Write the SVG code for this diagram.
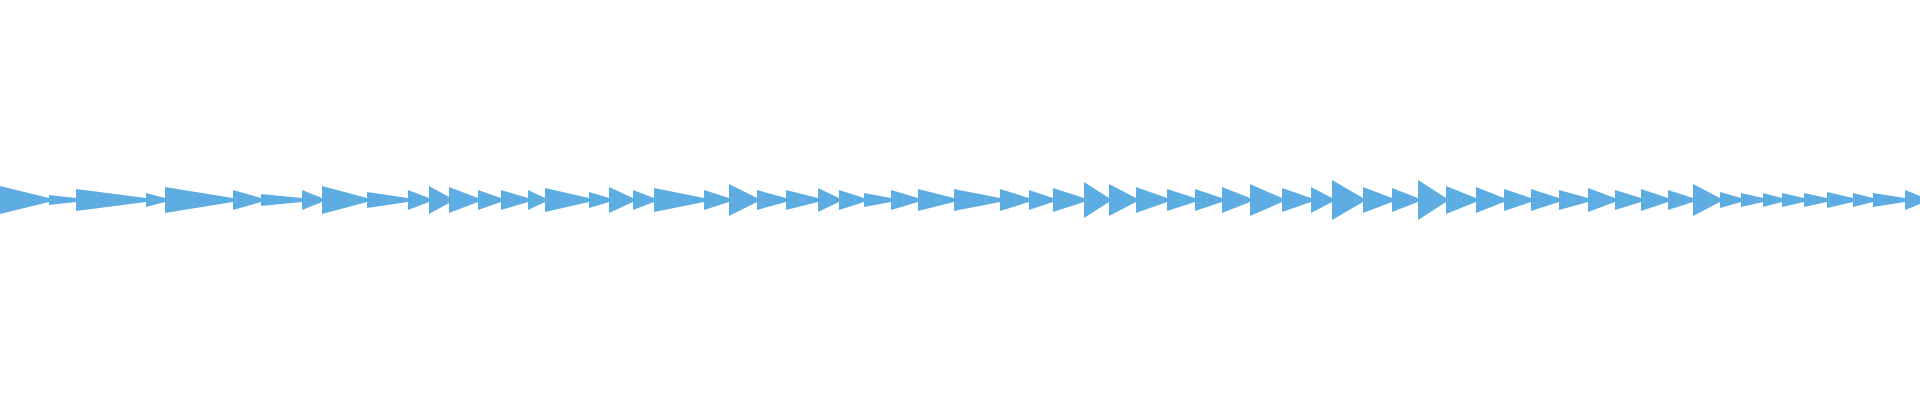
<svg xmlns="http://www.w3.org/2000/svg" width="1920" height="400" viewBox="0 0 1920 400">
<style>.w{fill:#5dade2}</style>
<rect width="1920" height="400" fill="#fff"/>
<g class="w">
<rect x="0" y="199" width="1920" height="2"/>
<polygon points="0,186 49,198 49,202 0,214"/>
<polygon points="49,195 76,198 76,202 49,205"/>
<polygon points="76,189 146,198 146,202 76,211"/>
<polygon points="146,193 165,198 165,202 146,207"/>
<polygon points="165,187 233,198 233,202 165,213"/>
<polygon points="233,190 261,198 261,202 233,210"/>
<polygon points="261,194 302,198 302,202 261,206"/>
<polygon points="302,190 322,198 322,202 302,210"/>
<polygon points="322,186 367,198 367,202 322,214"/>
<polygon points="367,192 408,198 408,202 367,208"/>
<polygon points="408,190 429,198 429,202 408,210"/>
<polygon points="429,186 449,197 449,203 429,214"/>
<polygon points="449,187 478,198 478,202 449,213"/>
<polygon points="478,190 501,198 501,202 478,210"/>
<polygon points="501,190 528,198 528,202 501,210"/>
<polygon points="528,190 545,198 545,202 528,210"/>
<polygon points="545,188 589,198 589,202 545,212"/>
<polygon points="589,192 609,198 609,202 589,208"/>
<polygon points="609,187 633,198 633,202 609,213"/>
<polygon points="633,190 654,198 654,202 633,210"/>
<polygon points="654,188 704,198 704,202 654,212"/>
<polygon points="704,190 729,198 729,202 704,210"/>
<polygon points="729,184 757,198 757,202 729,216"/>
<polygon points="757,190 786,198 786,202 757,210"/>
<polygon points="786,190 818,198 818,202 786,210"/>
<polygon points="818,188 839,198 839,202 818,212"/>
<polygon points="839,190 864,198 864,202 839,210"/>
<polygon points="864,193 891,198 891,202 864,207"/>
<polygon points="891,190 918,198 918,202 891,210"/>
<polygon points="918,189 954,198 954,202 918,211"/>
<polygon points="954,189 1000,198 1000,202 954,211"/>
<polygon points="1000,189 1029,198 1029,202 1000,211"/>
<polygon points="1029,190 1053,198 1053,202 1029,210"/>
<polygon points="1053,188 1084,198 1084,202 1053,212"/>
<polygon points="1084,182 1109,198 1109,202 1084,218"/>
<polygon points="1109,184 1136,198 1136,202 1109,216"/>
<polygon points="1136,187 1167,198 1167,202 1136,213"/>
<polygon points="1167,189 1195,198 1195,202 1167,211"/>
<polygon points="1195,189 1222,198 1222,202 1195,211"/>
<polygon points="1222,187 1250,198 1250,202 1222,213"/>
<polygon points="1250,184 1282,198 1282,202 1250,216"/>
<polygon points="1282,188 1311,198 1311,202 1282,212"/>
<polygon points="1311,187 1332,198 1332,202 1311,213"/>
<polygon points="1332,180 1363,198 1363,202 1332,220"/>
<polygon points="1363,187 1392,198 1392,202 1363,213"/>
<polygon points="1392,188 1418,198 1418,202 1392,212"/>
<polygon points="1418,180 1446,198 1446,202 1418,220"/>
<polygon points="1446,186 1476,198 1476,202 1446,214"/>
<polygon points="1476,187 1504,198 1504,202 1476,213"/>
<polygon points="1504,189 1531,198 1531,202 1504,211"/>
<polygon points="1531,189 1559,198 1559,202 1531,211"/>
<polygon points="1559,190 1588,198 1588,202 1559,210"/>
<polygon points="1588,188 1615,198 1615,202 1588,212"/>
<polygon points="1615,190 1641,198 1641,202 1615,210"/>
<polygon points="1641,189 1668,198 1668,202 1641,211"/>
<polygon points="1668,190 1693,198 1693,202 1668,210"/>
<polygon points="1693,184 1720,198 1720,202 1693,216"/>
<polygon points="1720,192 1741,198 1741,202 1720,208"/>
<polygon points="1741,193 1763,198 1763,202 1741,207"/>
<polygon points="1763,193 1782,198 1782,202 1763,207"/>
<polygon points="1782,193 1804,198 1804,202 1782,207"/>
<polygon points="1804,193 1827,198 1827,202 1804,207"/>
<polygon points="1827,192 1853,198 1853,202 1827,208"/>
<polygon points="1853,193 1873,198 1873,202 1853,207"/>
<polygon points="1873,193 1905,198 1905,202 1873,207"/>
<polygon points="1905,190 1920,196 1920,204 1905,210"/>
</g>
</svg>
